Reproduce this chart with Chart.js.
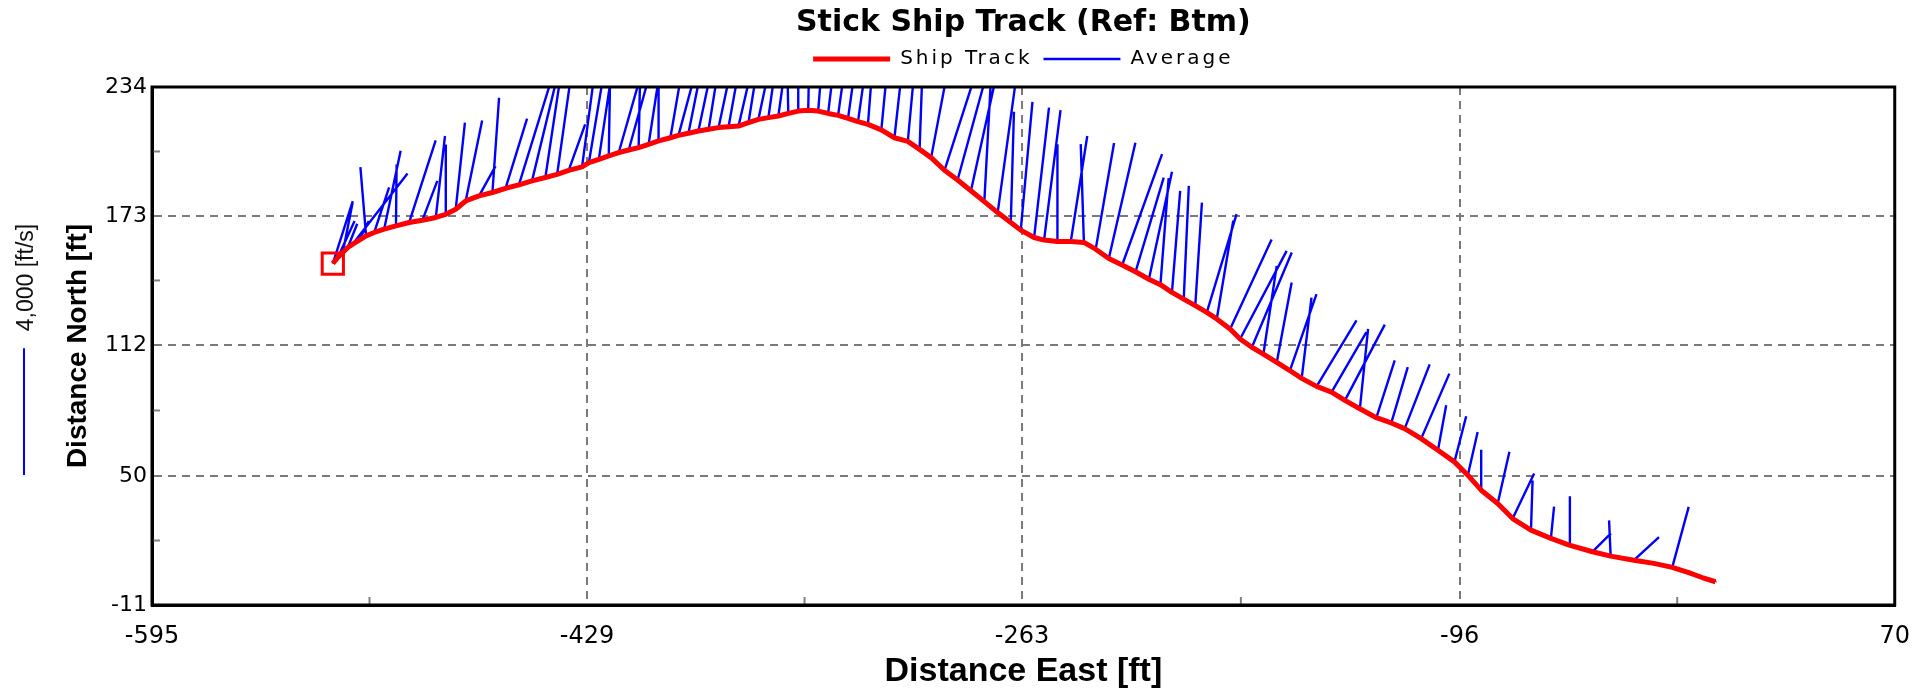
<!DOCTYPE html>
<html>
<head>
<meta charset="utf-8">
<title>Stick Ship Track (Ref: Btm)</title>
<script src="https://cdn.jsdelivr.net/npm/chart.js@4.4.1/dist/chart.umd.min.js"></script>
<style>
  html, body { margin: 0; padding: 0; background: #fff; }
  #wrap { width: 1927px; height: 690px; }
</style>
</head>
<body>
<div id="wrap"><canvas id="stickChart"></canvas></div>
<script>
// axis tick values [ft]
const xTicks = [-595, -429, -263, -96, 70];
const yTicks = [-11, 50, 112, 173, 234];

// ship track, one position per ensemble [ft]
const trackEast = [
  -526.0, -524.1, -522.2, -520.3, -518.4, -515.9, -513.3, -510.2, -506.4, -501.9,
  -496.9, -491.8, -486.7, -482.9, -479.1, -475.3, -470.2, -465.1, -460.1, -455.0,
  -450.0, -444.9, -440.4, -436.0, -430.9, -428.3, -424.5, -420.7, -416.9, -413.1,
  -409.3, -405.5, -401.7, -397.2, -394.1, -390.3, -386.5, -382.6, -378.8, -375.0,
  -371.2, -367.4, -363.6, -359.8, -356.0, -352.2, -348.4, -344.6, -340.8, -337.0,
  -333.2, -329.4, -325.6, -321.8, -316.7, -311.7, -306.6, -302.1, -297.7, -292.6,
  -287.6, -282.5, -277.4, -272.3, -267.3, -263.5, -258.4, -254.6, -249.5, -244.4,
  -239.4, -234.9, -229.9, -224.8, -219.7, -214.6, -210.2, -205.8, -201.3, -196.9,
  -192.5, -188.7, -183.6, -179.8, -175.3, -170.9, -165.8, -160.8, -156.3, -150.6,
  -144.9, -139.8, -134.1, -127.8, -122.1, -117.0, -110.7, -104.3, -98.0, -92.9,
  -87.8, -81.5, -75.8, -68.8, -61.2, -54.2, -45.3, -38.4, -29.5, -21.9,
  -14.9, -8.6, -3.5, 1.6
];
const trackNorth = [
  150.5, 153.4, 155.7, 158.1, 159.7, 161.6, 163.6, 165.2, 166.8, 168.3,
  169.9, 171.0, 172.3, 173.8, 176.2, 180.1, 182.5, 184.1, 186.1, 187.7,
  189.6, 191.2, 192.7, 194.6, 196.2, 198.2, 199.8, 201.4, 203.0, 204.2,
  205.3, 206.9, 208.5, 210.0, 211.1, 212.1, 213.2, 214.0, 214.8, 215.2,
  215.5, 217.1, 218.7, 219.5, 220.3, 221.5, 222.6, 223.0, 222.6, 221.5,
  220.6, 219.2, 217.6, 216.3, 213.7, 210.0, 208.3, 204.5, 200.6, 194.6,
  190.0, 184.9, 179.8, 174.6, 169.9, 166.3, 162.8, 161.6, 160.9, 160.9,
  160.5, 157.3, 152.9, 149.8, 146.6, 143.1, 140.5, 136.9, 133.7, 130.6,
  127.4, 124.3, 119.5, 114.8, 110.9, 107.7, 103.8, 99.9, 96.2, 92.4,
  89.7, 85.8, 81.8, 77.6, 75.1, 72.4, 67.7, 62.2, 56.7, 50.4,
  43.3, 37.0, 29.9, 24.4, 20.5, 17.3, 14.2, 12.1, 10.2, 8.7,
  6.8, 4.3, 2.0, 0.0
];

// depth averaged water velocity per ensemble [ft/s]
const velEast = [
  0.63, 0.53, 0.31, 0.30, 1.73, 0.30, -0.18, 0.47, 0.52, 0.02,
  0.84, 0.47, 0.29, 0.00, 0.29, 0.52, 0.52, 0.21, 0.68, 1.05,
  0.80, 0.48, 0.45, 0.52, 0.40, 0.50, 0.45, 0.05, 0.80, 0.75,
  0.05, 0.40, 0.00, 0.45, 0.70, 0.50, 0.55, 0.40, 0.55, 0.45,
  0.60, 0.40, 0.55, 0.35, 0.35, -0.05, 0.00, 0.05, 0.20, 0.30,
  0.35, 0.35, 0.35, 0.20, 0.25, 0.30, 0.25, 0.10, 0.55, 1.00,
  0.85, 0.75, 0.20, 0.55, 0.10, 0.37, 0.47, 0.52, 0.00, 0.52,
  -0.10, 0.58, 0.84, 1.26, 0.89, 0.73, 0.26, 0.26, 0.16, 0.21,
  0.94, 0.52, 1.31, 1.47, 1.26, 0.42, 0.47, 0.84, 0.31, 1.26,
  1.10, 1.26, 0.26, 0.58, 0.52, 0.79, 0.89, 0.26, 0.37, 0.31,
  0.00, 0.37, 0.68, 0.05, 0.10, 0.02, 0.58, -0.05, 0.79, 0.58,
  0.52, 0.05, 0.03, 0.02
];
const velNorth = [
  1.97, 1.15, 1.57, 0.75, 2.23, 0.60, 2.17, 1.42, 2.47, 1.94,
  2.59, 1.24, 2.57, 2.20, 2.73, 2.54, 0.94, 2.99, 2.20, 3.40,
  3.30, 3.20, 3.20, 1.45, 3.00, 3.00, 3.00, 3.00, 2.80, 2.70,
  2.50, 2.60, 2.50, 2.60, 2.60, 2.50, 2.60, 2.50, 2.60, 2.50,
  2.60, 2.50, 2.60, 2.50, 2.50, 2.50, 2.50, 2.50, 2.50, 2.50,
  2.50, 2.50, 2.50, 2.60, 2.60, 2.70, 2.70, 2.80, 2.90, 3.10,
  3.10, 3.40, 3.70, 4.00, 3.50, 4.05, 4.10, 4.10, 3.07, 3.33,
  3.10, 3.35, 3.65, 3.50, 2.97, 3.39, 3.36, 3.20, 3.57, 3.25,
  3.10, 3.10, 2.83, 2.78, 2.99, 2.78, 2.52, 2.41, 2.55, 2.08,
  1.89, 2.39, 2.52, 1.81, 1.76, 2.03, 2.05, 1.42, 1.44, 1.36,
  1.28, 1.63, 1.42, 1.57, 1.00, 1.54, 0.58, 1.13, 0.73, -0.10,
  1.91, 0.05, 0.03, 0.02
];

// stick scale: reference bar is 4 ft/s, drawn as feet of chart per ft/s
const refSpeed = 4;
const refLabel = "4,000 [ft/s]";
const stickFtPerFtsEast = 12.08;
const stickFtPerFtsNorth = 14.99;

const trackPoints = trackEast.map((e, i) => ({ x: e, y: trackNorth[i] }));

// each stick = base, tip, gap
const stickPoints = [];
trackEast.forEach((e, i) => {
  const n = trackNorth[i];
  stickPoints.push({ x: e, y: n });
  stickPoints.push({ x: e + velEast[i] * stickFtPerFtsEast, y: n + velNorth[i] * stickFtPerFtsNorth });
  stickPoints.push({ x: e, y: null });
});

// wide spaced legend text, and a bit of room under the legend
const legendStyle = {
  id: "legendStyle",
  beforeInit(chart) {
    const legend = chart.legend;
    const fit = legend.fit;
    const draw = legend.draw;
    legend.fit = function () {
      chart.ctx.save();
      chart.ctx.letterSpacing = "3px";
      fit.call(this);
      chart.ctx.restore();
      this.height += 8;
    };
    legend.draw = function () {
      chart.ctx.save();
      chart.ctx.letterSpacing = "3px";
      draw.call(this);
      chart.ctx.restore();
    };
  },
};

// black box round the plot and small inner ticks between the labelled ones
const framePlugin = {
  id: "frame",
  afterDatasetsDraw(chart) {
    const { ctx, chartArea: a, scales } = chart;
    ctx.save();
    ctx.strokeStyle = "#808080";
    ctx.lineWidth = 2;
    for (let i = 0; i < xTicks.length - 1; i++) {
      const px = scales.x.getPixelForValue((xTicks[i] + xTicks[i + 1]) / 2);
      ctx.beginPath();
      ctx.moveTo(px, a.bottom);
      ctx.lineTo(px, a.bottom - 8);
      ctx.stroke();
    }
    for (let i = 0; i < yTicks.length - 1; i++) {
      const py = scales.y.getPixelForValue((yTicks[i] + yTicks[i + 1]) / 2);
      ctx.beginPath();
      ctx.moveTo(a.left, py);
      ctx.lineTo(a.left + 8, py);
      ctx.stroke();
    }
    ctx.strokeStyle = "#000";
    ctx.lineWidth = 3;
    ctx.strokeRect(a.left, a.top, a.right - a.left, a.bottom - a.top);
    ctx.restore();
  },
};

// velocity reference bar at the far left
const refBar = {
  id: "refBar",
  afterDraw(chart) {
    const { ctx, chartArea: a, scales } = chart;
    const len = Math.abs(scales.y.getPixelForValue(refSpeed * stickFtPerFtsNorth) - scales.y.getPixelForValue(0));
    const bx = a.left - 128;
    const by = a.top + 388;
    ctx.save();
    ctx.strokeStyle = "#0000ff";
    ctx.lineWidth = 2;
    ctx.beginPath();
    ctx.moveTo(bx, by);
    ctx.lineTo(bx, by - len);
    ctx.stroke();
    ctx.translate(bx + 3, by - len - 17);
    ctx.rotate(-Math.PI / 2);
    ctx.fillStyle = "#111";
    ctx.font = "23px 'Liberation Sans', Arial, sans-serif";
    ctx.textAlign = "left";
    ctx.textBaseline = "middle";
    ctx.fillText(refLabel, 0, 0);
    ctx.restore();
  },
};

const gridColor = (ticks) => (c) =>
  c.tick && (c.tick.value === ticks[0] || c.tick.value === ticks[ticks.length - 1]) ? "rgba(0,0,0,0)" : "#7a7a7a";

Chart.defaults.font.family = "'DejaVu Sans', sans-serif";
Chart.defaults.color = "#000";

new Chart(document.getElementById("stickChart"), {
  type: "scatter",
  data: {
    datasets: [
      {
        label: "Ship Track",
        data: trackPoints,
        showLine: true,
        borderColor: "#ff0000",
        backgroundColor: "#ff0000",
        borderWidth: 5,
        borderJoinStyle: "round",
        pointRadius: 0,
        order: 1,
      },
      {
        label: "Average",
        data: stickPoints,
        showLine: true,
        spanGaps: false,
        borderColor: "#0000ff",
        backgroundColor: "#0000ff",
        borderWidth: 2.4,
        pointRadius: 0,
        order: 2,
      },
      {
        label: "start",
        data: [trackPoints[0]],
        pointStyle: "rect",
        pointRadius: 15,
        borderColor: "#ff0000",
        borderWidth: 3,
        backgroundColor: "rgba(0,0,0,0)",
        order: 0,
      },
    ],
  },
  options: {
    responsive: true,
    maintainAspectRatio: false,
    animation: false,
    events: [],
    layout: { padding: { left: 45, right: 27, top: 0, bottom: 0 } },
    plugins: {
      title: {
        display: true,
        fullSize: false,
        text: "Stick Ship Track (Ref: Btm)",
        color: "#000",
        font: { family: "'DejaVu Sans', sans-serif", size: 30, weight: "bold", lineHeight: 1.0 },
        padding: { top: 8, bottom: 0 },
      },
      legend: {
        display: true,
        position: "top",
        fullSize: false,
        labels: {
          usePointStyle: true,
          pointStyle: "line",
          pointStyleWidth: 77,
          color: "#000",
          font: { family: "'DejaVu Sans', sans-serif", size: 20 },
          padding: 11,
          filter: (item) => item.text !== "start",
        },
      },
      tooltip: { enabled: false },
    },
    scales: {
      x: {
        type: "linear",
        min: xTicks[0],
        max: xTicks[xTicks.length - 1],
        afterBuildTicks: (s) => { s.ticks = xTicks.map((v) => ({ value: v })); },
        afterFit: (s) => { s.height = 85; },
        ticks: { padding: 17, font: { size: 24 }, callback: (v) => String(v), maxRotation: 0, autoSkip: false },
        grid: { color: gridColor(xTicks), lineWidth: 2, drawTicks: false },
        border: { display: true, color: "#000", width: 3, dash: [8, 6] },
        title: {
          display: true,
          text: "Distance East [ft]",
          font: { family: "'Liberation Sans', Arial, sans-serif", size: 34, weight: "bold", lineHeight: 1.1 },
          padding: { top: 0, bottom: 0 },
        },
      },
      y: {
        type: "linear",
        min: yTicks[0],
        max: yTicks[yTicks.length - 1],
        afterBuildTicks: (s) => { s.ticks = yTicks.map((v) => ({ value: v })); },
        afterFit: (s) => { s.width = 107; },
        ticks: { padding: 5, font: { size: 22 }, callback: (v) => String(v), autoSkip: false },
        grid: { color: gridColor(yTicks), lineWidth: 2, drawTicks: false },
        border: { display: true, color: "#000", width: 3, dash: [8, 6] },
        title: {
          display: true,
          text: "Distance North [ft]",
          font: { family: "'Liberation Sans', Arial, sans-serif", size: 28, weight: "bold", lineHeight: 1.2 },
          padding: { top: 16, bottom: 0 },
        },
      },
    },
  },
  plugins: [legendStyle, framePlugin, refBar],
});
</script>
</body>
</html>
